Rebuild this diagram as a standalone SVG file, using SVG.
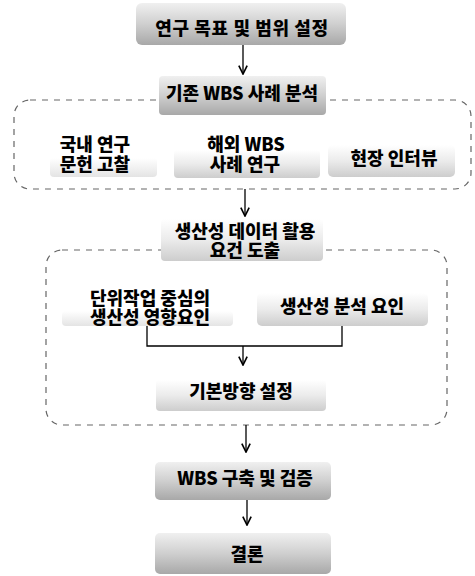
<svg xmlns="http://www.w3.org/2000/svg" width="475" height="576" viewBox="0 0 475 576">
<defs>
<linearGradient id="g" x1="0" y1="0" x2="0" y2="1">
<stop offset="0" stop-color="#f0f0f0"/>
<stop offset="0.5" stop-color="#cfcfcf"/>
<stop offset="1" stop-color="#a8a8a8"/>
</linearGradient>
<linearGradient id="g2" x1="0" y1="0" x2="0" y2="1">
<stop offset="0" stop-color="#ffffff"/>
<stop offset="0.5" stop-color="#ebebeb"/>
<stop offset="1" stop-color="#cdcdcd"/>
</linearGradient>
<linearGradient id="g3" x1="0" y1="0" x2="0" y2="1">
<stop offset="0" stop-color="#ffffff"/>
<stop offset="1" stop-color="#e4e4e4"/>
</linearGradient>
<marker id="ah" viewBox="0 0 10 10" refX="9" refY="5" markerWidth="8" markerHeight="8" orient="auto">
<path d="M1,1 L9,5 L1,9" fill="none" stroke="#000" stroke-width="1.6"/>
</marker>
</defs>
<style>
.box{fill:url(#g);}
.lbox{fill:url(#g2);}
.vbox{fill:url(#g3);}
.t{font-family:"Noto Sans CJK KR","Noto Sans",sans-serif;font-weight:900;font-size:18px;fill:#000;text-anchor:middle;}
.grp{fill:none;stroke:#666;stroke-width:1.2;stroke-dasharray:6,6;}
.c{fill:none;stroke:#000;stroke-width:1.3;}
</style>
<g id="group1"><rect class="grp" x="14" y="100" width="457" height="89" rx="16"/></g>
<g id="group2"><rect class="grp" x="46" y="250" width="401" height="175" rx="16"/></g>
<g id="connectors">
<line class="c" x1="243" y1="45" x2="243" y2="74" marker-end="url(#ah)"/>
<line class="c" x1="245" y1="189" x2="245" y2="216" marker-end="url(#ah)"/>
<polyline class="c" points="147,326 147,346 342,346 342,326"/>
<line class="c" x1="243" y1="346" x2="243" y2="365" marker-end="url(#ah)"/>
<line class="c" x1="246" y1="425" x2="246" y2="452" marker-end="url(#ah)"/>
<line class="c" x1="247" y1="500" x2="247" y2="525" marker-end="url(#ah)"/>
</g>
<g id="n1"><rect class="box" x="136" y="3" width="210" height="42" rx="6"/><text class="t" x="242" y="35" letter-spacing="0.6">연구 목표 및 범위 설정</text></g>
<g id="n2"><rect class="box" x="159" y="76" width="167" height="39" rx="4"/><text class="t" x="242" y="100">기존 WBS 사례 분석</text></g>
<g id="n3"><rect class="vbox" x="50" y="158" width="107" height="19" rx="4"/><text class="t"><tspan x="95" y="151">국내 연구</tspan><tspan x="95" y="171">문헌 고찰</tspan></text></g>
<g id="n4"><rect class="lbox" x="174" y="150" width="146" height="28" rx="4"/><text class="t"><tspan x="246" y="151">해외 WBS</tspan><tspan x="245" y="171">사례 연구</tspan></text></g>
<g id="n5"><rect class="lbox" x="328" y="145" width="127" height="32" rx="5"/><text class="t" x="394" y="165">현장 인터뷰</text></g>
<g id="n6"><rect class="lbox" x="161" y="219" width="162" height="42" rx="4"/><text class="t"><tspan x="245" y="238">생산성 데이터 활용</tspan><tspan x="245" y="257">요건 도출</tspan></text></g>
<g id="n7"><rect class="vbox" x="62" y="311" width="171" height="15" rx="4"/><text class="t"><tspan x="150" y="305">단위작업 중심의</tspan><tspan x="150" y="324">생산성 영향요인</tspan></text></g>
<g id="n8"><rect class="lbox" x="257" y="293" width="171" height="33" rx="5"/><text class="t" x="342" y="313">생산성 분석 요인</text></g>
<g id="n9"><rect class="lbox" x="156" y="380" width="170" height="31" rx="4"/><text class="t" x="241" y="398">기본방향 설정</text></g>
<g id="n10"><rect class="box" x="155" y="462" width="176" height="38" rx="5"/><text class="t" x="245" y="485">WBS 구축 및 검증</text></g>
<g id="n11"><rect class="box" x="155" y="533" width="176" height="41" rx="5"/><text class="t" x="247" y="561">결론</text></g>
</svg>
